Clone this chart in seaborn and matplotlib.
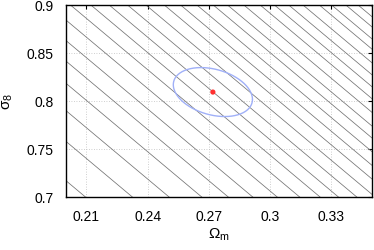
import numpy as np
import pandas as pd
import seaborn as sns
import matplotlib
matplotlib.use("Agg")
import matplotlib.pyplot as plt

# degeneracy lines: Omega_m where each line crosses sigma_8 = 0.9
line_om_at_top = [0.097, 0.120, 0.138, 0.154, 0.167, 0.179, 0.191, 0.202, 0.212,
                  0.221, 0.230, 0.239, 0.248, 0.256, 0.264, 0.272, 0.279, 0.287,
                  0.295, 0.302, 0.309, 0.316, 0.324, 0.330, 0.337, 0.343, 0.349]
line_slope = -1.78  # d sigma_8 / d Omega_m

# fiducial point and its error ellipse
fid_om = 0.272
fid_s8 = 0.809
err_om = 0.0194
err_s8 = 0.0255
rho = -0.3

xticks = [0.21, 0.24, 0.27, 0.3, 0.33]
yticks = [0.7, 0.75, 0.8, 0.85, 0.9]

sns.set_theme(style="white")
plt.rcParams["font.family"] = ["Liberation Sans", "DejaVu Sans"]
plt.rcParams["mathtext.fontset"] = "custom"
plt.rcParams["mathtext.rm"] = "Liberation Sans"
plt.rcParams["mathtext.it"] = "Liberation Sans:italic"

om = np.linspace(0.05, 0.4, 50)
rows = []
for i, om0 in enumerate(line_om_at_top):
    s8 = 0.9 + line_slope * (om - om0)
    for a, b in zip(om, s8):
        rows.append({"line": i, "om": a, "s8": b})
lines = pd.DataFrame(rows)

t = np.linspace(0, 2 * np.pi, 200)
ell = pd.DataFrame({
    "pt": np.arange(len(t)),
    "om": fid_om + err_om * np.cos(t),
    "s8": fid_s8 + err_s8 * (rho * np.cos(t) + np.sqrt(1 - rho ** 2) * np.sin(t)),
})

fig = plt.figure(figsize=(3.74, 2.51), dpi=100)
ax = fig.add_axes([66 / 374, 1 - 197.7 / 251, 306 / 374, 192 / 251])

sns.lineplot(data=lines, x="om", y="s8", units="line", estimator=None,
             color="0.45", linewidth=0.55, ax=ax, legend=False)
sns.lineplot(data=ell, x="om", y="s8", sort=False, estimator=None,
             color="#a0b0f8", linewidth=1.0, ax=ax)
sns.scatterplot(x=[fid_om], y=[fid_s8], color="#ff3030", s=14,
                edgecolor="none", ax=ax, zorder=5)

ax.set_xlim(0.2, 0.35)
ax.set_ylim(0.7, 0.9)
ax.set_xticks(xticks)
ax.set_xticklabels(["0.21", "0.24", "0.27", "0.3", "0.33"])
ax.set_yticks(yticks)
ax.set_yticklabels(["0.7", "0.75", "0.8", "0.85", "0.9"])
ax.grid(True, color="0.75", linestyle=(0, (1, 2)), linewidth=0.6)
ax.tick_params(direction="in", length=3, width=0.8, top=True, right=True,
               labelsize=10, colors="black", pad=9)
for sp in ax.spines.values():
    sp.set_color("black")
    sp.set_linewidth(1.0)

ax.set_xlabel(r"$\mathrm{\Omega_m}$", fontsize=11, labelpad=2, color="black")
ax.set_ylabel(r"$\mathrm{\sigma_8}$", fontsize=11, labelpad=8, color="black")

fig.savefig("out.png", dpi=100)
